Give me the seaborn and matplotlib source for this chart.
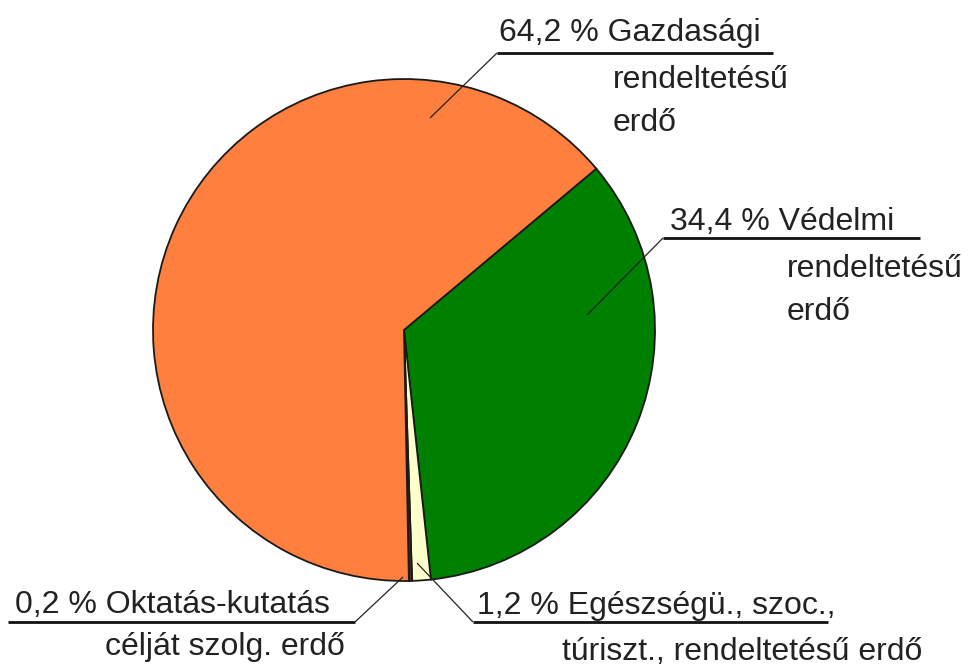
import matplotlib
matplotlib.use("Agg")
import matplotlib.pyplot as plt
import seaborn as sns

# ---- data ----
categories = ["Védelmi", "Egészségü., szoc., túriszt.", "Oktatás-kutatás", "Gazdasági"]
shares = [34.4, 1.2, 0.2, 64.2]
share_labels = ["34,4 %", "1,2 %", "0,2 %", "64,2 %"]
label_line1 = ["34,4 % Védelmi", "1,2 % Egészségü., szoc.,", "0,2 % Oktatás-kutatás", "64,2 % Gazdasági"]
label_rest = [["rendeltetésű", "erdő"], ["túriszt., rendeltetésű erdő"], ["célját szolg. erdő"], ["rendeltetésű", "erdő"]]
colors = ["#008000", "#FFFFCC", "#4a3020", "#FF7F3F"]

sns.set_theme(style="white")
plt.rcParams['font.family'] = ['Liberation Sans', 'DejaVu Sans']

W, H = 974, 672
fig = plt.figure(figsize=(W / 100, H / 100), dpi=100)
ax = fig.add_axes([0, 0, 1, 1])

def Y(py):
    return H - py

cx, cy, R = 404, 330, 251
ax.pie(shares, colors=colors, startangle=40, counterclock=False,
       center=(cx, Y(cy)), radius=R,
       wedgeprops=dict(edgecolor="#1a1a1a", linewidth=1.3))

ax.set_xlim(0, W)
ax.set_ylim(0, H)
ax.set_aspect("equal")
ax.axis("off")

fs = 23
tc = "#222222"

layout = [
    dict(p0=(587, 315), p1=(663, 238), ux=920, t1=(670, 230), tx=787, ty=[277, 320]),
    dict(p0=(417, 563), p1=(473, 622), ux=828, t1=(477, 614), tx=562, ty=[660]),
    dict(p0=(403, 577), p1=(355, 622), ux=8, t1=(15, 613), tx=105, ty=[655]),
    dict(p0=(430, 118), p1=(497, 53), ux=773, t1=(499, 41), tx=613, ty=[88, 131]),
]

for i, L in enumerate(layout):
    (x0, y0), (x1, y1) = L["p0"], L["p1"]
    ax.plot([x0, x1], [Y(y0), Y(y1)], color="#222222", lw=0.9, solid_capstyle="butt")
    ax.plot([x1, L["ux"]], [Y(y1), Y(y1)], color="#111111", lw=2.0, solid_capstyle="butt")
    ax.text(L["t1"][0], Y(L["t1"][1]), label_line1[i], fontsize=fs, color=tc,
            ha="left", va="baseline")
    for txt, by in zip(label_rest[i], L["ty"]):
        ax.text(L["tx"], Y(by), txt, fontsize=fs, color=tc, ha="left", va="baseline")

fig.savefig("out.png", dpi=100, facecolor="white")
